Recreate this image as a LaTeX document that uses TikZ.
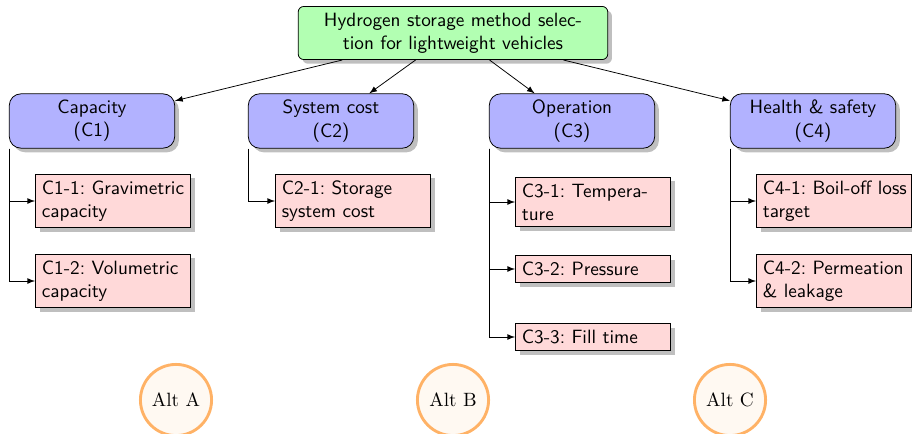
\documentclass[tikz,border=0pt]{standalone}
\usetikzlibrary{shadows}
\begin{document}
\frenchspacing
\begin{tikzpicture}[x=0.52pt,y=-0.52pt,
    goal/.style={draw,rounded corners=3pt,fill=green!30,drop shadow,font=\sffamily,align=center,minimum width=161pt,minimum height=27.5pt},
    crit/.style={draw,rounded corners=6pt,fill=blue!30,drop shadow,font=\sffamily,align=center,minimum width=86pt,minimum height=27pt},
    sub/.style={draw,fill=red!15,drop shadow,font=\sffamily,align=left,text width=74pt},
    alt/.style={draw=orange!60,line width=1.5pt,fill=orange!5,circle,minimum size=37pt,inner sep=0pt}]
        \useasboundingbox (0,0) rectangle (912,433);
        \node [goal](top)at(453,33){Hydrogen storage method selec-\\tion for lightweight vehicles};
        \node [crit](cap)at(92,121){Capacity\\(C1)};
        \node [crit](cost)at(331,121){System cost\\(C2)};
        \node [crit](oper)at(572,121){Operation\\(C3)};
        \node [crit](safe)at(813,121){Health \& safety\\(C4)};
        \node [sub](c11)at(113,201){C1-1: Gravimetric\\capacity};
        \node [sub](c12)at(113,281){C1-2: Volumetric\\capacity};
        \node [sub](c21)at(353,201){C2-1: Storage\\system cost};
        \node [sub](c31)at(593,202){C3-1: Tempera-\\ture};
        \node [sub](c32)at(593,269){C3-2: Pressure};
        \node [sub](c33)at(593,337){C3-3: Fill time};
        \node [sub](c41)at(834,201){\mbox{C4-1: Boil-off loss}\\target};
        \node [sub](c42)at(834,281){C4-2: Permeation\\\& leakage};
        \node [alt](a1)at(176,400){Alt A};
        \node [alt](a2)at(453,400){Alt B};
        \node [alt](a3)at(730,400){Alt C};

        \draw [-latex] (top) -- (cap);
        \draw [-latex] (top) -- (cost);
        \draw [-latex] (top) -- (oper);
        \draw [-latex] (top) -- (safe);
        \draw [-latex] (cap.south west) |- (c11.west);
        \draw [-latex] (cap.south west) |- (c12.west);
        \draw [-latex] (cost.south west) |- (c21.west);
        \draw [-latex] (oper.south west) |- (c31.west);
        \draw [-latex] (oper.south west) |- (c32.west);
        \draw [-latex] (oper.south west) |- (c33.west);
        \draw [-latex] (safe.south west) |- (c41.west);
        \draw [-latex] (safe.south west) |- (c42.west);
    \end{tikzpicture}
\end{document}
